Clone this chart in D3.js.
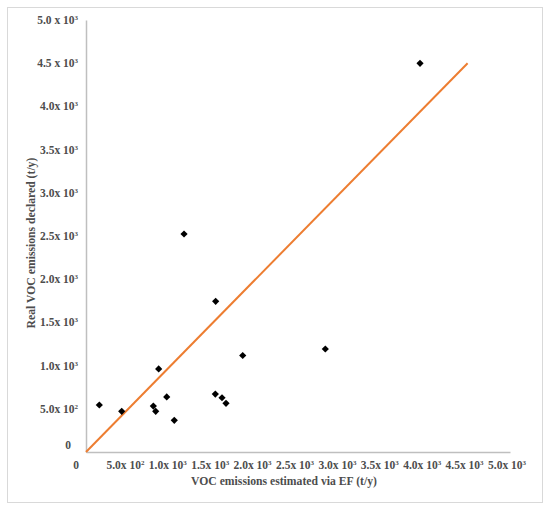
<!DOCTYPE html>
<html>
<head>
<meta charset="utf-8">
<script src="https://cdn.jsdelivr.net/npm/d3@7"></script>
<style>
  body { margin: 0; background: #fff; }
  text { font-family: "Liberation Serif", "Times New Roman", serif; font-weight: bold; }
</style>
</head>
<body>
<script>
// Data (t/y)
var estimated = [157, 421, 794, 822, 857, 952, 1041, 1156, 1529, 1525, 1604, 1651, 1848, 2822, 3939];
var declared  = [544, 471, 532, 471, 961, 637, 367, 2523, 1744, 671, 628, 564, 1117, 1192, 4499];
var tickValues = [0, 500, 1000, 1500, 2000, 2500, 3000, 3500, 4000, 4500, 5000];
var xTickMant = ["0", "5.0x 10", "1.0x 10", "1.5x 10", "2.0x 10", "2.5x 10", "3.0x 10", "3.5x 10", "4.0x 10", "4.5x 10", "5.0x 10"];
var yTickMant = ["0", "5.0x 10", "1.0x 10", "1.5x 10", "2.0x 10", "2.5x 10", "3.0x 10", "3.5x 10", "4.0x 10", "4.5 x 10", "5.0 x 10"];
var tickExp = ["", "2", "3", "3", "3", "3", "3", "3", "3", "3", "3"];
var refLine = [0, 4500];

var width = 550, height = 512;
var margins = {top: 20, right: 40, bottom: 60, left: 86};

var svg = d3.select("body")
  .append("svg")
  .attr("width", width)
  .attr("height", height);

// outer frame
svg.append("rect")
  .attr("x", 7.5).attr("y", 7.5)
  .attr("width", 535).attr("height", 495)
  .attr("fill", "#fff")
  .attr("stroke", "#d9d9d9");

var x_Scale = d3.scaleLinear()
  .domain([0, 5000])
  .range([margins.left, width - margins.right]);

var y_Scale = d3.scaleLinear()
  .domain([0, 5000])
  .range([height - margins.bottom, margins.top]);

// axes, lines only
var x_Axis = svg.append("g")
  .attr("transform", `translate(0, ${y_Scale(0)})`)
  .call(d3.axisBottom(x_Scale).tickValues(tickValues).tickSize(0).tickFormat(""));
var y_Axis = svg.append("g")
  .attr("transform", `translate(${x_Scale(0)}, 0)`)
  .call(d3.axisLeft(y_Scale).tickValues(tickValues).tickSize(0).tickFormat(""));
svg.selectAll(".domain").attr("stroke", "#bfbfbf").attr("stroke-width", 1.5);

// tick labels with superscript exponent
function addLabel(g, mant, exp) {
  g.append("tspan").text(mant);
  if (exp) {
    g.append("tspan").attr("dy", -4).style("font-size", "7px").text(exp);
  }
}

svg.append("g").selectAll("text")
  .data(tickValues)
  .join("text")
  .attr("x", function(d, i) { return x_Scale(d) + (i == 0 ? -10 : -3); })
  .attr("y", 469)
  .attr("text-anchor", "middle")
  .attr("fill", "#4d4d4d")
  .style("font-size", "11.5px")
  .each(function(d, i) { addLabel(d3.select(this), xTickMant[i], tickExp[i]); });

svg.append("g").selectAll("text")
  .data(tickValues)
  .join("text")
  .attr("x", function(d, i) { return i == 0 ? 71 : 78; })
  .attr("y", function(d, i) { return y_Scale(d) + (i == 0 ? -3 : 4); })
  .attr("text-anchor", "end")
  .attr("fill", "#4d4d4d")
  .style("font-size", "11.5px")
  .each(function(d, i) { addLabel(d3.select(this), yTickMant[i], tickExp[i]); });

// axis titles
svg.append("text")
  .attr("x", 284)
  .attr("y", 485)
  .attr("text-anchor", "middle")
  .attr("fill", "#4d4d4d")
  .style("font-size", "11.7px")
  .text("VOC emissions estimated via EF (t/y)");

svg.append("text")
  .attr("transform", "rotate(-90)")
  .attr("x", -243)
  .attr("y", 35)
  .attr("text-anchor", "middle")
  .attr("fill", "#4d4d4d")
  .style("font-size", "11.7px")
  .text("Real VOC emissions declared (t/y)");

// 1:1 line
var plot_line = d3.line()
  .x(function(d) { return x_Scale(d); })
  .y(function(d) { return y_Scale(d); });

svg.append("path")
  .attr("d", plot_line(refLine))
  .attr("stroke", "#ed7d31")
  .attr("stroke-width", 2)
  .attr("fill", "none");

// points
var pts = estimated.map(function(d, i) { return {x: d, y: declared[i]}; });
svg.append("g").selectAll("path")
  .data(pts)
  .join("path")
  .attr("d", d3.symbol().type(d3.symbolSquare).size(26))
  .attr("transform", function(d) { return `translate(${x_Scale(d.x)}, ${y_Scale(d.y)}) rotate(45)`; })
  .attr("fill", "#000");
</script>
</body>
</html>
